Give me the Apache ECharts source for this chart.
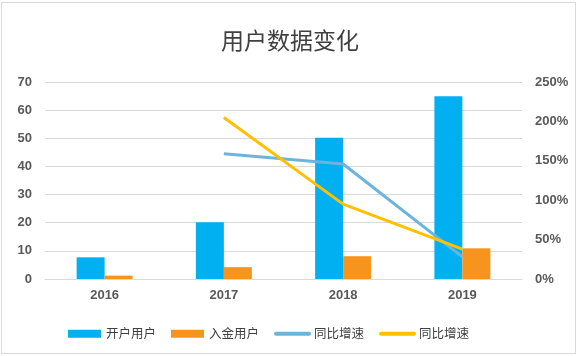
<!DOCTYPE html>
<html>
<head>
<meta charset="utf-8">
<script src="https://cdn.jsdelivr.net/npm/echarts@6/dist/echarts.min.js"></script>
<style>
html,body{margin:0;padding:0;background:#fff;}
#frame{position:absolute;left:1px;top:2px;width:575px;height:352px;border:1px solid #d9d9d9;box-sizing:border-box;}
#chart{position:absolute;left:0;top:0;width:580px;height:356px;}
</style>
</head>
<body>
<div id="frame"></div>
<div id="chart"></div>
<script>
const categories = ['2016', '2017', '2018', '2019'];
const openUsers = [7.7, 20.2, 50.2, 64.9];
const depositUsers = [1.2, 4.2, 8.1, 10.9];
const growthA = [null, 159, 146, 28];
const growthB = [null, 205, 95, 38];
const leftTicks = [0, 70, 10];
const rightTicks = [0, 250, 50];

const chart = echarts.init(document.getElementById('chart'), null, {renderer: 'canvas'});
const labelFont = {color: '#595959', fontSize: 13, fontFamily: 'Liberation Sans, Arial, sans-serif'};
chart.setOption({
  backgroundColor: 'transparent',
  animation: false,
  title: {
    text: '用户数据变化', left: 'center', top: 24,
    textStyle: {fontSize: 23, fontWeight: 'normal', color: '#404040', fontFamily: 'Noto Sans CJK SC, sans-serif'}
  },
  legend: {
    left: 63, bottom: 11, itemGap: 15, itemWidth: 33, itemHeight: 8,
    textStyle: {fontSize: 12.5, color: '#404040', fontFamily: 'Noto Sans CJK SC, sans-serif'},
    data: [
      {name: '开户用户', icon: 'rect'},
      {name: '入金用户', icon: 'rect'},
      {name: '同比增速A', itemStyle: {opacity: 0}, lineStyle: {width: 4, cap: 'round'}},
      {name: '同比增速B', itemStyle: {opacity: 0}, lineStyle: {width: 4, cap: 'round'}}
    ],
    formatter: function (n) { return n.replace(/[AB]$/, ''); }
  },
  grid: {left: 45, right: 58, top: 82, bottom: 77},
  xAxis: {
    type: 'category', data: categories,
    axisLine: {lineStyle: {color: '#d9d9d9'}},
    axisTick: {show: false},
    axisLabel: Object.assign({margin: 10, fontWeight: 'bold'}, labelFont)
  },
  yAxis: [
    {type: 'value', min: leftTicks[0], max: leftTicks[1], interval: leftTicks[2],
     axisLabel: Object.assign({margin: 13, fontWeight: 'bold'}, labelFont),
     splitLine: {lineStyle: {color: '#d9d9d9', width: 1}},
     axisLine: {show: false}, axisTick: {show: false}},
    {type: 'value', min: rightTicks[0], max: rightTicks[1], interval: rightTicks[2],
     axisLabel: Object.assign({margin: 13, fontWeight: 'bold', formatter: '{value}%'}, labelFont),
     splitLine: {show: false}, axisLine: {show: false}, axisTick: {show: false}}
  ],
  series: [
    {name: '开户用户', type: 'bar', data: openUsers, barWidth: 28, barGap: '0%',
     itemStyle: {color: '#00B0F0'}},
    {name: '入金用户', type: 'bar', data: depositUsers, barWidth: 28,
     itemStyle: {color: '#F7941D'}},
    {name: '同比增速A', type: 'line', yAxisIndex: 1, data: growthA, showSymbol: false,
     symbol: 'none', lineStyle: {color: '#6BB5DC', width: 3}, itemStyle: {color: '#6BB5DC'}},
    {name: '同比增速B', type: 'line', yAxisIndex: 1, data: growthB, showSymbol: false,
     symbol: 'none', lineStyle: {color: '#FFC000', width: 3}, itemStyle: {color: '#FFC000'}}
  ]
});
</script>
</body>
</html>
